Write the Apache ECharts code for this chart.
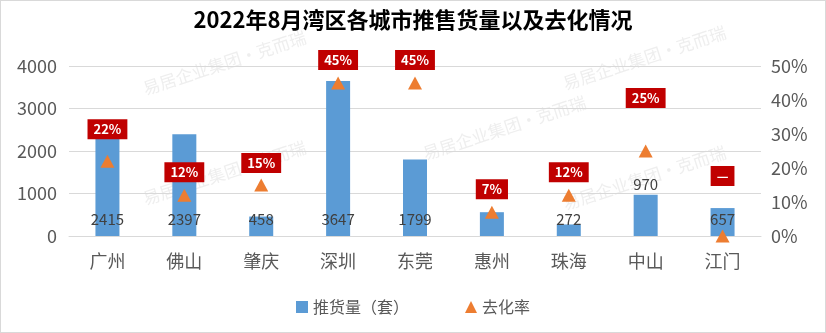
<!DOCTYPE html>
<html>
<head>
<meta charset="utf-8">
<script src="https://cdn.jsdelivr.net/npm/echarts@6/dist/echarts.min.js"></script>
<style>
  html, body { margin: 0; padding: 0; background: #fff; }
  #chart { width: 826px; height: 333px; box-sizing: border-box; border: 1px solid #d9d9d9; }
</style>
</head>
<body>
<div id="chart"></div>
<script>
// 数据
const cities = ['广州', '佛山', '肇庆', '深圳', '东莞', '惠州', '珠海', '中山', '江门'];
const supply = [2415, 2397, 458, 3647, 1799, 560, 272, 970, 657];
const rate = [22, 12, 15, 45, 45, 7, 12, 25, 0];
const rateText = ['22%', '12%', '15%', '45%', '45%', '7%', '12%', '25%', '—'];
const leftTicks = [0, 1000, 2000, 3000, 4000];

const FONT = '"Microsoft YaHei", "Noto Sans CJK SC", sans-serif';

// 去化率标签的上移距离（仿原图手动摆放）
const rateLift = [32, 23, 22, 23, 23, 23, 23, 53, 60];
// 原图中惠州没有显示推货量数值
const hideSupplyLabel = [5];

const chart = echarts.init(document.getElementById('chart'));

const wm = '易居企业集团·克而瑞';
const watermarks = [[140, 80], [420, 145], [560, 75], [140, 190], [560, 195]].map(p => ({
  type: 'text',
  x: p[0], y: p[1],
  rotation: Math.PI / 10,
  style: { text: wm, fill: 'rgba(200,200,200,0.3)', font: '17px ' + FONT },
  z: 0
}));

chart.setOption({
  animation: false,
  title: {
    text: '2022年8月湾区各城市推售货量以及去化情况',
    left: 'center',
    top: 3,
    textStyle: { fontFamily: FONT, fontSize: 22, fontWeight: 'bold', color: '#000' }
  },
  graphic: watermarks,
  legend: {
    bottom: 12,
    left: 'center',
    itemGap: 56,
    itemWidth: 12,
    itemHeight: 12,
    textStyle: { fontFamily: FONT, fontSize: 16, color: '#595959' },
    data: [
      { name: '推货量（套）', icon: 'rect' },
      { name: '去化率', icon: 'triangle' }
    ]
  },
  grid: { left: 68, right: 64, top: 65, bottom: 96 },
  xAxis: {
    type: 'category',
    data: cities,
    axisTick: { show: false },
    axisLine: { lineStyle: { color: '#d9d9d9' } },
    axisLabel: { fontFamily: FONT, fontSize: 18, color: '#595959', margin: 16 }
  },
  yAxis: [
    {
      type: 'value',
      min: leftTicks[0],
      max: leftTicks[leftTicks.length - 1],
      interval: 1000,
      axisLabel: { fontFamily: FONT, fontSize: 18, color: '#595959', margin: 12, formatter: v => String(v) },
      splitLine: { lineStyle: { color: '#d9d9d9' } },
      axisLine: { show: false },
      axisTick: { show: false }
    },
    {
      type: 'value',
      min: 0,
      max: 50,
      interval: 10,
      axisLabel: { fontFamily: FONT, fontSize: 18, color: '#595959', margin: 10, formatter: '{value}%' },
      splitLine: { show: false },
      axisLine: { show: false },
      axisTick: { show: false }
    }
  ],
  series: [
    {
      name: '推货量（套）',
      type: 'bar',
      barWidth: 24,
      itemStyle: { color: '#5B9BD5' },
      data: supply.map((v, i) => ({
        value: v,
        label: hideSupplyLabel.includes(i)
          ? { show: false }
          : i === 7
            ? { position: 'top', distance: 3 }
            : { position: 'insideBottom', distance: 9 }
      })),
      label: {
        show: true,
        fontFamily: FONT,
        fontSize: 15,
        color: '#404040'
      },
      z: 2
    },
    {
      name: '去化率',
      type: 'scatter',
      yAxisIndex: 1,
      symbol: 'triangle',
      symbolSize: [14, 13],
      itemStyle: { color: '#ED7D31', opacity: 1 },
      data: rate.map((v, i) => ({
        value: v,
        label: { offset: [0, -rateLift[i]] }
      })),
      label: {
        show: true,
        position: 'inside',
        formatter: p => rateText[p.dataIndex],
        fontFamily: FONT,
        fontSize: 13,
        fontWeight: 'bold',
        color: '#fff',
        backgroundColor: '#C00000',
        padding: [4, 6, 3, 6]
      },
      z: 3
    }
  ]
});
</script>
</body>
</html>
